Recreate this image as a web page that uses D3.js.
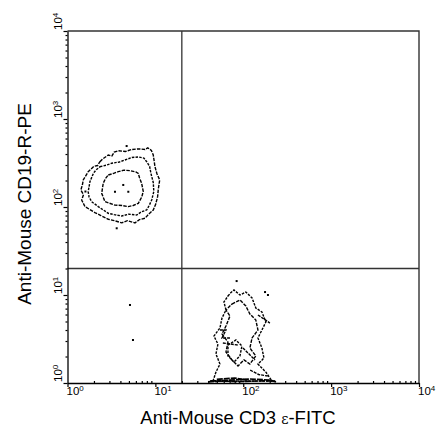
<!DOCTYPE html>
<html>
<head>
<meta charset="utf-8">
<script src="https://cdn.jsdelivr.net/npm/d3@7"></script>
<style>
  body { margin: 0; background: #fff; }
  svg { display: block; font-family: "Liberation Sans", Arial, sans-serif; }
</style>
</head>
<body>
<script>
// decade ticks (log axes, both 10^0 .. 10^4)
const majorTicks = [1, 10, 100, 1000, 10000];
const tickExps = ["0", "1", "2", "3", "4"];
const gateX = 20, gateY = 20;   // quadrant gate

// CD19+ population (x = CD3e-FITC, y = CD19-R-PE)
const cd19Outer = [[2.34,327],[2.5,350],[2.91,390],[3.2,380],[3.4,420],[3.78,436],[4.6,428],[5.37,450],[6.4,458],[7.62,450],[8.2,470],[9.0,440],[9.46,390],[9.7,330],[9.89,287],[10.4,240],[11.2,203],[10.8,160],[10.6,131],[10.1,108],[9.46,92.5],[8.5,84],[7.62,74.5],[6.6,72],[5.86,66],[4.8,70],[4.14,66],[3.4,70],[2.91,72.5],[2.4,80],[2.05,86.4],[1.58,101],[1.45,120],[1.52,138],[1.42,156],[1.48,180],[1.51,203],[1.72,252],[2.0,290],[2.2,296]];
const cd19Mid = [[2.34,287],[2.8,300],[3.18,314],[3.9,325],[4.51,342],[5.4,365],[6.39,370],[7.4,360],[7.96,327],[8.6,290],[8.9,241],[9.46,190],[9.6,150],[9.08,120],[8.5,104],[7.96,92.5],[6.9,88],[6.13,81],[5.0,83],[4.14,79],[3.4,82],[2.91,84.8],[2.24,101],[1.88,115],[1.76,130],[1.72,149],[1.80,194],[1.97,241],[2.1,262]];
const cd19Inner = [[2.91,231],[3.3,240],[3.78,252],[4.4,262],[5.14,259],[6.0,250],[6.39,241],[6.6,215],[6.98,186],[7.28,150],[7.0,130],[6.39,110],[5.6,104],[4.92,101],[4.2,104],[3.47,105],[2.67,115],[2.45,143],[2.55,186],[2.7,210]];
const cd19Dots = [[4.31,178],[3.47,149],[4.92,149],[3.63,57.3],[4.71,493],[5.14,7.7],[5.56,3.08],[1.6,150]];

// CD3+ population
const cd3Outer = [[67,9.74],[72,10.6],[78.4,11.4],[91.7,10],[107,10.8],[126,9.25],[139,7.12],[163,6.41],[181,4.93],[163,4.0],[147,3.25],[163,2.5],[172,1.92],[147,1.64],[181,1.33],[201,1.14],[212,1.05],[45.2,1.05],[48.9,1.33],[54.3,1.64],[48.9,2.14],[51.5,2.77],[46.4,3.42],[54.3,4.22],[57.3,5.48],[63.6,6.75],[60.3,8.33]];
const cd3Mid = [[74.4,7.9],[91.7,8.77],[107,7.5],[119,6.08],[139,5.2],[147,4.0],[126,3.25],[119,2.5],[139,2.03],[119,1.64],[102,1.83],[87.1,1.56],[74.4,1.83],[63.6,2.25],[67,2.92],[57.3,3.61],[63.6,4.44],[70.6,5.77],[63.6,6.75]];
const cd3Inner = [[67,2.70],[82.6,3.08],[96.6,2.63],[91.7,2.03],[78.4,1.73],[67,2.03]];
const cd3Frags = [
  [[54.3,4.0],[63.6,4.0],[57.3,3.25],[70.6,3.25]],
  [[58.6,2.85],[87.1,2.70]],
  [[99.1,2.5],[136,1.83]],
  [[147,5.93],[201,4.80]],
  [[120,1.4],[150,1.25],[190,1.2]],
  [[39.7,1.03],[70.6,1.08],[119,1.11],[201,1.08],[236,1.03]],
  [[42,1.06],[90,1.04],[180,1.06],[230,1.05]],
  [[50,1.1],[80,1.14],[110,1.08]]
];
const cd3Dots = [[84.1,14.4],[177,10.8],[191,10]];

const width = 443, height = 429;
const pLeft = 67.5, pRight = 419, pTop = 31, pBottom = 383;

const svg = d3.select('body').append('svg')
    .attr('width', width)
    .attr('height', height);

const x = d3.scaleLog().domain([1, 10000]).range([pLeft, pRight]);
const y = d3.scaleLog().domain([1, 10000]).range([pBottom, pTop]);

let minorTicks = [];
for (let d = 0; d < 4; d++) {
    for (let k = 2; k < 10; k++) minorTicks.push(k * Math.pow(10, d));
}

// frame (top/right) and quadrant lines
svg.append('path')
    .attr('d', `M${pLeft},${pTop}H${pRight}V${pBottom}`)
    .attr('fill', 'none').attr('stroke', '#333').attr('stroke-width', 1.4);
svg.append('line')
    .attr('x1', x(gateX)).attr('x2', x(gateX))
    .attr('y1', pTop).attr('y2', pBottom)
    .attr('stroke', '#333').attr('stroke-width', 1.3);
svg.append('line')
    .attr('x1', pLeft).attr('x2', pRight)
    .attr('y1', y(gateY)).attr('y2', y(gateY))
    .attr('stroke', '#333').attr('stroke-width', 1.3);

// axes
const gx = svg.append('g').attr('transform', `translate(0,${pBottom})`);
gx.call(d3.axisBottom(x).tickValues(majorTicks).tickSize(4).tickSizeOuter(0).tickFormat(''));
gx.append('g').call(d3.axisBottom(x).tickValues(minorTicks).tickSize(-2).tickSizeOuter(0).tickFormat(''))
    .select('.domain').remove();
const gy = svg.append('g').attr('transform', `translate(${pLeft},0)`);
gy.call(d3.axisLeft(y).tickValues(majorTicks).tickSize(4).tickSizeOuter(0).tickFormat(''));
gy.append('g').call(d3.axisLeft(y).tickValues(minorTicks).tickSize(2).tickSizeOuter(0).tickFormat(''))
    .select('.domain').remove();
svg.selectAll('.domain').attr('stroke', '#000').attr('stroke-width', 1.3);
svg.selectAll('.tick line').attr('stroke', '#000').attr('stroke-width', 1.2);

// tick labels 10^n
function powLabel(sel, i) {
    sel.append('tspan').text('10');
    sel.append('tspan').attr('font-size', '8px').attr('dy', -4).text(tickExps[i]);
}
majorTicks.forEach(function(v, i) {
    svg.append('text')
        .attr('x', x(v) - 1).attr('y', 395)
        .attr('font-size', '11.5px').attr('fill', '#000')
        .call(powLabel, i);
    svg.append('text')
        .attr('transform', `translate(62,${y(v) - 1}) rotate(-90)`)
        .attr('font-size', '11.5px').attr('fill', '#000')
        .call(powLabel, i);
});

// axis titles
const xt = svg.append('text')
    .attr('x', 238).attr('y', 424)
    .attr('text-anchor', 'middle').attr('font-size', '18.5px');
xt.append('tspan').text('Anti-Mouse CD3 ');
xt.append('tspan').attr('font-family', '"DejaVu Serif", serif').attr('font-size', '14px').text('ε');
xt.append('tspan').text('-FITC');
svg.append('text')
    .attr('transform', `translate(31,204) rotate(-90)`)
    .attr('text-anchor', 'middle').attr('font-size', '19px')
    .text('Anti-Mouse CD19-R-PE');

// contours
const closed = d3.line().x(d => x(d[0])).y(d => y(d[1])).curve(d3.curveLinearClosed);
const open = d3.line().x(d => x(d[0])).y(d => y(d[1]));
const contours = svg.append('g').attr('fill', 'none').attr('stroke', '#000').attr('stroke-width', 1.4);
[cd19Outer, cd19Mid, cd19Inner, cd3Outer, cd3Mid, cd3Inner].forEach(function(c, i) {
    contours.append('path')
        .attr('d', closed(c))
        .attr('stroke-dasharray', i % 2 ? '2.5,1.2' : '3.5,1.2');
});
cd3Frags.forEach(function(c, i) {
    contours.append('path')
        .attr('d', open(c))
        .attr('stroke-width', i > 4 ? 1.7 : 1.4)
        .attr('stroke-dasharray', i > 4 ? '6,1' : '3,1');
});
svg.selectAll('rect.dot')
    .data(cd19Dots.concat(cd3Dots))
    .enter()
    .append('rect')
    .attr('class', 'dot')
    .attr('x', d => x(d[0]) - 1)
    .attr('y', d => y(d[1]) - 1)
    .attr('width', 2).attr('height', 2)
    .attr('fill', '#000');
</script>
</body>
</html>
